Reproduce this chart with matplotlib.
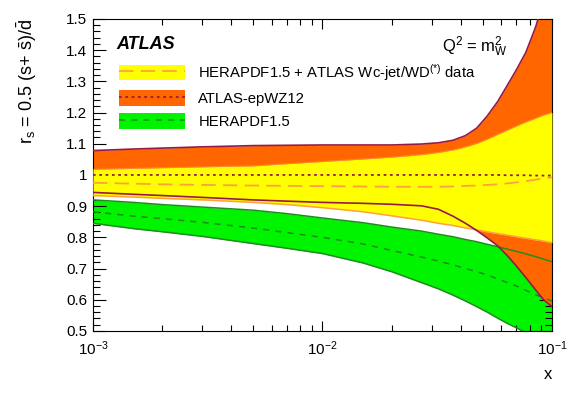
import numpy as np
import matplotlib
matplotlib.use("Agg")
import matplotlib.pyplot as plt
from matplotlib.patches import Patch
from matplotlib.lines import Line2D
from matplotlib.ticker import MultipleLocator, LogLocator

plt.rcParams['font.family'] = ['Liberation Sans', 'DejaVu Sans']
plt.rcParams['mathtext.fontset'] = 'custom'
plt.rcParams['mathtext.rm'] = 'Liberation Sans'
plt.rcParams['mathtext.it'] = 'Liberation Sans'
plt.rcParams['mathtext.bf'] = 'Liberation Sans:bold'

# x grid of read-off points
x = [0.001, 0.0015, 0.002, 0.003, 0.005, 0.007, 0.01, 0.015, 0.02, 0.027,
     0.032, 0.037, 0.042, 0.047, 0.052, 0.058, 0.064, 0.07, 0.077, 0.085, 0.092, 0.1]

# ATLAS-epWZ12 band
epwz_hi = [1.078, 1.083, 1.086, 1.090, 1.094, 1.095, 1.096, 1.096, 1.096, 1.099,
           1.103, 1.111, 1.126, 1.150, 1.187, 1.235, 1.288, 1.337, 1.393, 1.475, 1.560, 1.680]
epwz_lo = [0.944, 0.938, 0.934, 0.928, 0.920, 0.916, 0.912, 0.909, 0.906, 0.901,
           0.890, 0.868, 0.845, 0.822, 0.799, 0.773, 0.741, 0.708, 0.671, 0.631, 0.600, 0.578]
epwz_c = [1.0, 1.0, 1.0, 1.0, 1.0, 1.0, 1.0, 1.0, 1.0, 1.0,
          1.0, 1.0, 1.0, 1.0, 1.0, 1.0, 0.999, 0.999, 0.999, 0.998, 0.998, 0.998]

# HERAPDF1.5 + ATLAS Wc-jet/WD band
wc_hi = [1.018, 1.021, 1.023, 1.026, 1.029, 1.036, 1.043, 1.051, 1.057, 1.065,
         1.072, 1.080, 1.090, 1.101, 1.114, 1.130, 1.144, 1.157, 1.170, 1.182, 1.192, 1.200]
wc_lo = [0.934, 0.929, 0.925, 0.920, 0.912, 0.905, 0.895, 0.882, 0.869, 0.855,
         0.845, 0.838, 0.830, 0.824, 0.818, 0.812, 0.807, 0.802, 0.797, 0.792, 0.788, 0.783]
wc_c = [0.975, 0.972, 0.970, 0.968, 0.966, 0.965, 0.964, 0.963, 0.962, 0.962,
        0.962, 0.963, 0.965, 0.966, 0.968, 0.970, 0.973, 0.976, 0.980, 0.985, 0.989, 0.992]

# HERAPDF1.5 band
hera_hi = [0.920, 0.912, 0.905, 0.897, 0.887, 0.876, 0.862, 0.847, 0.833, 0.820,
           0.810, 0.802, 0.793, 0.786, 0.778, 0.770, 0.762, 0.755, 0.747, 0.738, 0.730, 0.722]
hera_lo = [0.845, 0.828, 0.818, 0.803, 0.780, 0.765, 0.748, 0.718, 0.690, 0.655,
           0.635, 0.615, 0.596, 0.578, 0.561, 0.541, 0.524, 0.510, 0.494, 0.472, 0.452, 0.430]
hera_c = [0.882, 0.868, 0.860, 0.848, 0.830, 0.815, 0.800, 0.779, 0.758, 0.737,
          0.724, 0.712, 0.700, 0.690, 0.680, 0.667, 0.655, 0.644, 0.630, 0.616, 0.606, 0.596]

c_yellow = '#FFFF00'
c_orange = '#FF6600'
c_green = '#00F400'
c_dred = '#961A48'
c_lorange = '#FFA040'
c_dgreen = '#1E8C1E'

fig = plt.figure(figsize=(5.81, 3.94), dpi=100)
ax = fig.add_axes([0.160, 0.160, 0.790, 0.792])

ax.fill_between(x, hera_lo, hera_hi, color=c_green, lw=0, zorder=1)
ax.fill_between(x, epwz_lo, epwz_hi, color=c_orange, lw=0, zorder=2)
ax.fill_between(x, wc_lo, wc_hi, color=c_yellow, lw=0, zorder=3)

ax.plot(x, hera_hi, color=c_dgreen, lw=1.1, zorder=5)
ax.plot(x, hera_lo, color=c_dgreen, lw=1.1, zorder=5)
ax.plot(x, hera_c, color=c_dgreen, lw=1.1, dashes=(4, 4), zorder=5)
ax.plot(x, wc_hi, color='#FF9A50', lw=0.8, alpha=0.6, zorder=4)
ax.plot(x, wc_lo, color=c_lorange, lw=1.1, zorder=4)
ax.plot(x, wc_c, color=c_lorange, lw=1.3, dashes=(8, 4), zorder=5)
ax.plot(x, epwz_hi, color=c_dred, lw=1.2, zorder=6)
ax.plot(x, epwz_lo, color=c_dred, lw=1.2, zorder=6)
ax.plot(x, epwz_c, color=c_dred, lw=1.3, dashes=(1.5, 2), zorder=6)

ax.set_xscale('log')
ax.set_xlim(1e-3, 1e-1)
ax.set_ylim(0.5, 1.5)
ax.yaxis.set_minor_locator(MultipleLocator(0.02))
ax.xaxis.set_minor_locator(LogLocator(base=10, subs=np.arange(2, 10)))
ax.set_yticks(np.arange(0.5, 1.51, 0.1))
ax.set_yticklabels(['0.5', '0.6', '0.7', '0.8', '0.9', '1', '1.1', '1.2', '1.3', '1.4', '1.5'])

ax.tick_params(axis='both', which='both', direction='in', top=True, right=True,
               labelsize=11, width=0.8)
ax.tick_params(axis='y', which='major', length=9.4, pad=4)
ax.tick_params(axis='y', which='minor', length=4.7)
ax.tick_params(axis='x', which='major', length=7.4, pad=6)
ax.tick_params(axis='x', which='minor', length=4.3)
for s in ax.spines.values():
    s.set_linewidth(0.8)

ax.set_ylabel(r'r$_{\rm s}$ = 0.5 (s+ $\rm\bar{s}$)/$\rm\bar{d}$', fontsize=13, loc='top')
ax.yaxis.set_label_coords(-0.117, 1.0)
ax.set_xlabel('x', fontsize=12, loc='right')
ax.xaxis.set_label_coords(1.0, -0.115)

ax.text(0.052, 0.917, 'ATLAS', transform=ax.transAxes, fontsize=13,
        fontweight='bold', fontstyle='italic', va='center', ha='left')
ax.text(0.904, 0.91, r'Q$^{2}$ = m$_{\rm W}^{2}$', transform=ax.transAxes,
        fontsize=12, va='center', ha='right')

handles = [
    (Patch(facecolor=c_yellow, edgecolor='none'),
     Line2D([], [], color=c_lorange, lw=1.3, dashes=(8, 4))),
    (Patch(facecolor=c_orange, edgecolor='none'),
     Line2D([], [], color=c_dred, lw=1.3, dashes=(1.5, 2))),
    (Patch(facecolor=c_green, edgecolor='none'),
     Line2D([], [], color=c_dgreen, lw=1.1, dashes=(4, 4))),
]
labels = ['HERAPDF1.5 + ATLAS Wc-jet/WD$^{(*)}$ data', 'ATLAS-epWZ12', 'HERAPDF1.5']
ax.legend(handles, labels, loc='upper left', bbox_to_anchor=(0.0566, 0.862),
          frameon=False, fontsize=10.7, handlelength=4.45, handleheight=1.24,
          labelspacing=0.49, handletextpad=0.9, borderpad=0, borderaxespad=0)

fig.savefig('out.png', dpi=100)
